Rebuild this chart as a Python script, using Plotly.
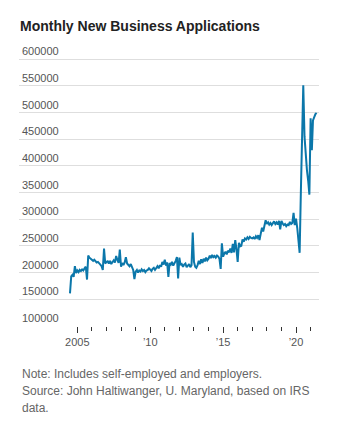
import pandas as pd
import plotly.graph_objects as go

# Monthly new business applications, July 2004 through June 2021
apps_2004 = [161000, 193000, 196000, 192000, 212000, 199000]
apps_2005 = [204000, 201000, 205000, 203000, 206000, 204000, 208000, 211000, 187000, 232000, 228000, 226000]
apps_2006 = [225000, 222000, 224000, 221000, 219000, 220000, 218000, 215000, 212000, 205000, 245000, 217000]
apps_2007 = [220000, 221000, 217000, 222000, 216000, 221000, 223000, 219000, 231000, 224000, 218000, 243000]
apps_2008 = [211000, 218000, 214000, 219000, 229000, 217000, 215000, 212000, 216000, 209000, 205000, 188000]
apps_2009 = [202000, 205000, 200000, 204000, 202000, 206000, 203000, 205000, 201000, 204000, 205000, 208000]
apps_2010 = [206000, 203000, 207000, 209000, 205000, 210000, 212000, 208000, 214000, 211000, 220000, 215000]
apps_2011 = [224000, 213000, 219000, 192000, 218000, 215000, 220000, 213000, 217000, 222000, 229000, 189000]
apps_2012 = [228000, 214000, 216000, 211000, 215000, 217000, 210000, 213000, 216000, 210000, 214000, 275000]
apps_2013 = [220000, 211000, 209000, 214000, 222000, 216000, 225000, 218000, 226000, 221000, 228000, 223000]
apps_2014 = [226000, 232000, 227000, 233000, 229000, 231000, 228000, 232000, 230000, 226000, 207000, 255000]
apps_2015 = [230000, 236000, 239000, 234000, 241000, 238000, 245000, 237000, 254000, 238000, 261000, 244000]
apps_2016 = [220000, 256000, 249000, 250000, 262000, 258000, 264000, 262000, 266000, 263000, 267000, 265000]
apps_2017 = [264000, 266000, 263000, 268000, 265000, 270000, 261000, 273000, 284000, 277000, 290000, 298000]
apps_2018 = [291000, 294000, 290000, 293000, 289000, 292000, 296000, 291000, 294000, 290000, 297000, 281000]
apps_2019 = [297000, 292000, 289000, 291000, 287000, 290000, 289000, 295000, 291000, 293000, 312000, 289000]
apps_2020 = [301000, 284000, 266000, 237000, 349000, 477000, 551000, 455000, 415000, 392000, 372000, 346000]
apps_2021 = [489000, 429000, 485000, 492000, 497000, 499000]

yearly = [apps_2004, apps_2005, apps_2006, apps_2007, apps_2008, apps_2009, apps_2010,
          apps_2011, apps_2012, apps_2013, apps_2014, apps_2015, apps_2016, apps_2017,
          apps_2018, apps_2019, apps_2020, apps_2021]
values = [v for year in yearly for v in year]
months = pd.date_range("2004-07-01", periods=len(values), freq="MS")

y_ticks = list(range(100000, 600001, 50000))
x_major = ["2005-01-01", "2010-01-01", "2015-01-01", "2020-01-01"]
x_major_text = ["2005", "\u201910", "\u201915", "\u201920"]
x_minor = [f"{y}-01-01" for y in range(2005, 2022)]

title_text = "Monthly New Business Applications"
note_lines = [
    "Note: Includes self-employed and employers.",
    "Source: John Haltiwanger, U. Maryland, based on IRS",
    "data.",
]

W, H = 341, 436
BOTTOM = 110
fig = go.Figure()
fig.add_trace(go.Scatter(
    x=months, y=values, mode="lines",
    line=dict(color="#0b77aa", width=2),
    hoverinfo="skip",
))

fig.update_layout(
    width=W, height=H,
    margin=dict(l=19, r=22, t=45, b=BOTTOM),
    paper_bgcolor="white", plot_bgcolor="white",
    showlegend=False,
    font=dict(family="Liberation Sans, Arial, sans-serif", color="#555"),
    title=dict(
        text="<b>" + title_text + "</b>",
        xref="container", yref="container",
        x=20 / W, xanchor="left",
        y=1 - 26 / H, yanchor="middle",
        font=dict(size=14, color="#222"),
    ),
)

# headroom above the top gridline keeps its inside label visible
fig.update_yaxes(
    range=[100000, 626250],
    tickvals=y_ticks, tickformat="d",
    ticklabelposition="inside top",
    tickfont=dict(size=11, color="#555"),
    showgrid=True, gridcolor="#dedede", gridwidth=1,
    zeroline=False, showline=False, ticks="",
)

fig.update_xaxes(
    type="date",
    range=["2001-01-01", "2021-07-30"],
    tickmode="array", tickvals=x_major, ticktext=x_major_text,
    ticks="outside", ticklen=6, tickwidth=1, tickcolor="#333",
    tickfont=dict(size=11, color="#555"),
    minor=dict(tickmode="array", tickvals=x_minor, ticks="outside",
               ticklen=4, tickwidth=1, tickcolor="#333", showgrid=False),
    showgrid=False, zeroline=False, showline=False,
)

for i, line in enumerate(note_lines):
    fig.add_annotation(
        text=line, xref="paper", yref="paper",
        x=0, xshift=1, y=0, yshift=-(374 + 17 * i - (H - BOTTOM)),
        xanchor="left", yanchor="middle", showarrow=False,
        font=dict(size=12, color="#666"),
    )

fig.write_html("out.html")
